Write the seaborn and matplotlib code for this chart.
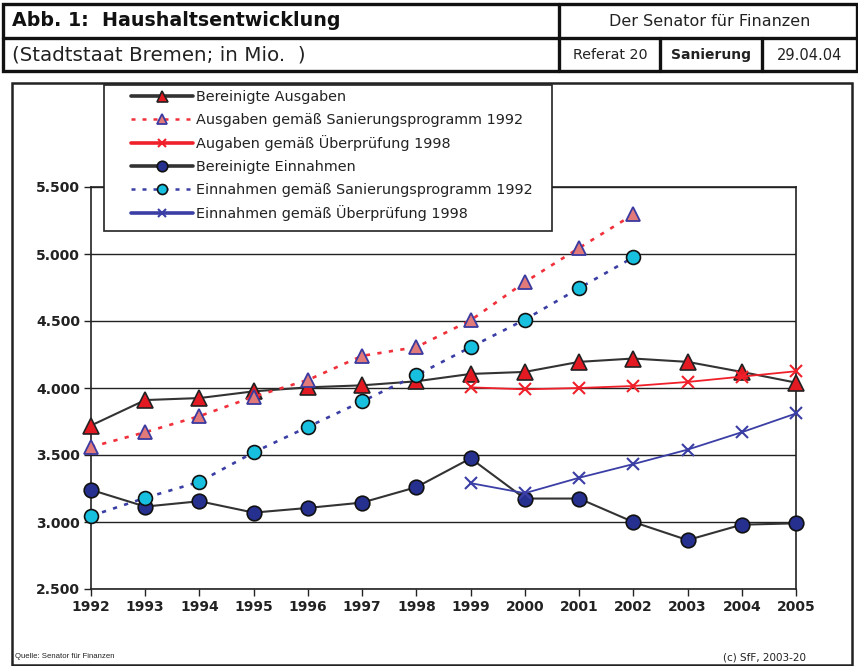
import matplotlib
matplotlib.use("Agg")
import matplotlib.pyplot as plt
import seaborn as sns
import pandas as pd
from matplotlib.lines import Line2D
from matplotlib.patches import Rectangle
from matplotlib.ticker import FuncFormatter, MultipleLocator

sns.set_theme(style="white")
plt.rcParams['font.family'] = ['DejaVu Sans']

years = list(range(1992, 2006))
years_98 = list(range(1999, 2006))
years_92 = list(range(1992, 2003))

ausgaben_ber = [3720, 3910, 3925, 3975, 4005, 4020, 4050, 4105, 4120, 4195, 4220, 4195, 4120, 4040]
ausgaben_san92 = [3560, 3670, 3790, 3935, 4060, 4240, 4305, 4505, 4790, 5045, 5295]
ausgaben_ueb98 = [4005, 3990, 4000, 4015, 4045, 4085, 4125]
einnahmen_ber = [3240, 3115, 3155, 3070, 3105, 3145, 3260, 3475, 3175, 3175, 3000, 2865, 2980, 2990]
einnahmen_san92 = [3045, 3180, 3300, 3520, 3710, 3900, 4095, 4305, 4510, 4745, 4975]
einnahmen_ueb98 = [3290, 3215, 3330, 3432, 3540, 3670, 3810]

labels = ["Bereinigte Ausgaben",
          "Ausgaben gemäß Sanierungsprogramm 1992",
          "Augaben gemäß Überprüfung 1998",
          "Bereinigte Einnahmen",
          "Einnahmen gemäß Sanierungsprogramm 1992",
          "Einnahmen gemäß Überprüfung 1998"]

W, H = 858, 666
fig = plt.figure(figsize=(W / 100, H / 100), dpi=100)
fig.patch.set_facecolor("white")


def fx(px):
    return px / W


def fy(py):
    return 1 - py / H


ax = fig.add_axes([fx(91), fy(589), fx(796) - fx(91), fy(187) - fy(589)])
ax.set_facecolor("white")

styles = [
    dict(color="#333333", linestyle="-", lw=1.5, marker="^", ms=11, mfc="#e41a22", mec="#222222", mew=1.2),
    dict(color="#f0303a", linestyle=(0, (1.6, 2.8)), lw=1.9, marker="^", ms=10, mfc="#e27a7a", mec="#3a3aa0", mew=1.3),
    dict(color="#f0202a", linestyle="-", lw=1.3, marker="x", ms=8, mfc="none", mec="#f0202a", mew=1.5),
    dict(color="#333333", linestyle="-", lw=1.5, marker="o", ms=10.5, mfc="#26308e", mec="#111111", mew=1.2),
    dict(color="#3a3ea5", linestyle=(0, (1.6, 2.8)), lw=1.9, marker="o", ms=10, mfc="#18c0df", mec="#111111", mew=1.2),
    dict(color="#3a3ea5", linestyle="-", lw=1.3, marker="x", ms=8, mfc="none", mec="#3a3ea5", mew=1.5),
]
series = [(years, ausgaben_ber), (years_92, ausgaben_san92), (years_98, ausgaben_ueb98),
          (years, einnahmen_ber), (years_92, einnahmen_san92), (years_98, einnahmen_ueb98)]

for (xs, ys), lab, st in zip(series, labels, styles):
    df = pd.DataFrame({"Jahr": xs, "Wert": ys})
    sns.lineplot(data=df, x="Jahr", y="Wert", ax=ax, color=st["color"], linestyle=st["linestyle"],
                 linewidth=st["lw"], marker=st["marker"], markersize=st["ms"],
                 markerfacecolor=st["mfc"], markeredgecolor=st["mec"],
                 markeredgewidth=st["mew"], legend=False, clip_on=False, zorder=3)

ax.set_xlim(1992, 2005)
ax.set_ylim(2500, 5500)
ax.yaxis.set_major_locator(MultipleLocator(500))
ax.set_xticks(years)
ax.set_xticklabels([str(y) for y in years])
ax.yaxis.set_major_formatter(FuncFormatter(lambda v, p: f"{v:,.0f}".replace(",", ".")))
ax.grid(axis="y", color="#222222", lw=1.0)
ax.grid(axis="x", visible=False)
ax.set_axisbelow(True)
for s in ax.spines.values():
    s.set_color("#222222")
    s.set_linewidth(1.2)
    s.set_visible(True)
ax.tick_params(axis="both", which="both", direction="out", length=5, width=1.0, color="#222222",
               labelsize=10, pad=3, left=True, bottom=True)
for t in ax.get_xticklabels() + ax.get_yticklabels():
    t.set_fontweight("bold")
    t.set_color("#222222")
ax.set_xlabel("")
ax.set_ylabel("")

# legend frame and entries
fig.add_artist(Rectangle((fx(104), fy(231)), fx(552) - fx(104), fy(85) - fy(231),
                         transform=fig.transFigure, facecolor="white", edgecolor="#222222",
                         lw=1.2, zorder=4))
handles = []
for st in styles:
    dotted = st["linestyle"] != "-"
    handles.append(Line2D([0], [0], color=st["color"], linestyle=st["linestyle"],
                          lw=1.8 if dotted else 2.6,
                          marker=st["marker"], markersize=st["ms"] * 0.72,
                          markerfacecolor=st["mfc"], markeredgecolor=st["mec"],
                          markeredgewidth=st["mew"]))
leg = fig.legend(handles, labels, loc="upper left", bbox_to_anchor=(fx(131), fy(90)),
                 bbox_transform=fig.transFigure, frameon=False, fontsize=10.4,
                 handlelength=4.3, handletextpad=0.2, labelspacing=0.6,
                 borderpad=0, borderaxespad=0)
leg.set_zorder(6)
for t in leg.get_texts():
    t.set_color("#222222")

# chart frame
fig.add_artist(Rectangle((fx(12), fy(665)), fx(852) - fx(12), fy(83) - fy(665),
                         transform=fig.transFigure, facecolor="none", edgecolor="#222222",
                         lw=1.8, zorder=7))

# header table
fig.add_artist(Rectangle((fx(3), fy(71)), fx(857) - fx(3), fy(4) - fy(71),
                         transform=fig.transFigure, facecolor="none", edgecolor="#111111",
                         lw=2.4, zorder=7))
fig.add_artist(Line2D([fx(3), fx(857)], [fy(38), fy(38)], transform=fig.transFigure,
                      color="#111111", lw=2.4, zorder=7))
fig.add_artist(Line2D([fx(559), fx(559)], [fy(4), fy(71)], transform=fig.transFigure,
                      color="#111111", lw=2.4, zorder=7))
for xv in (660, 762):
    fig.add_artist(Line2D([fx(xv), fx(xv)], [fy(38), fy(71)], transform=fig.transFigure,
                          color="#111111", lw=2.4, zorder=7))

fig.text(fx(12), fy(21), "Abb. 1:  Haushaltsentwicklung", fontsize=13.7, fontweight="bold",
         ha="left", va="center", color="#111111")
fig.text(fx(710), fy(21), "Der Senator für Finanzen", fontsize=11.5,
         ha="center", va="center", color="#222222")
fig.text(fx(12), fy(55), "(Stadtstaat Bremen; in Mio.  )", fontsize=14.3,
         ha="left", va="center", color="#222222")
fig.text(fx(610), fy(55), "Referat 20", fontsize=10.3, ha="center", va="center", color="#222222")
fig.text(fx(711), fy(55), "Sanierung", fontsize=10, fontweight="bold", ha="center", va="center",
         color="#222222")
fig.text(fx(810), fy(55), "29.04.04", fontsize=10.5, ha="center", va="center", color="#222222")

# footer
fig.text(fx(15), fy(657), "Quelle: Senator für Finanzen", fontsize=5.6, ha="left", va="center",
         color="#222222", family="Liberation Sans")
fig.text(fx(806), fy(657), "(c) SfF, 2003-20", fontsize=7.5, ha="right", va="center",
         color="#222222")

fig.savefig("out.png", dpi=100, facecolor="white")
